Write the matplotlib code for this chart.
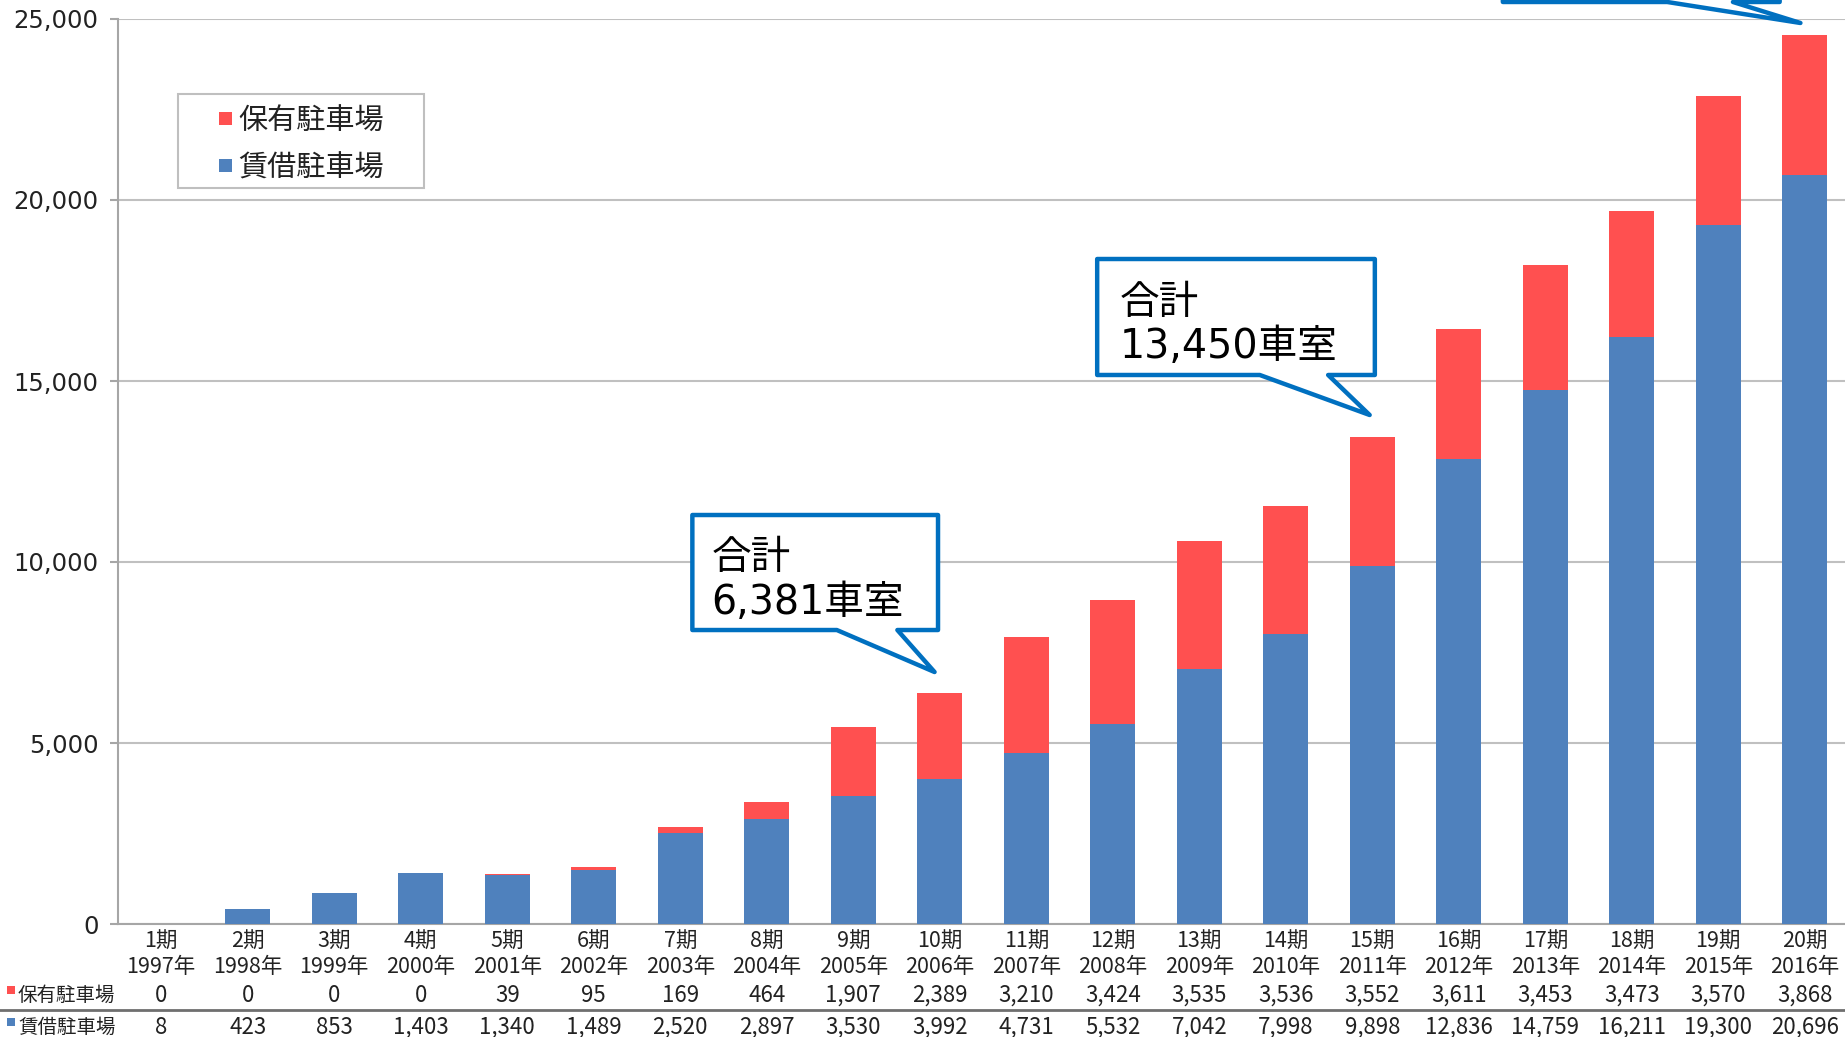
import matplotlib
matplotlib.use("Agg")
import matplotlib.pyplot as plt
from matplotlib.patches import Polygon, Rectangle
from matplotlib.transforms import blended_transform_factory
import numpy as np

periods = [f"{i}期" for i in range(1, 21)]
years = [f"{y}年" for y in range(1997, 2017)]
owned = [0, 0, 0, 0, 39, 95, 169, 464, 1907, 2389, 3210, 3424, 3535, 3536, 3552, 3611, 3453, 3473, 3570, 3868]
leased = [8, 423, 853, 1403, 1340, 1489, 2520, 2897, 3530, 3992, 4731, 5532, 7042, 7998, 9898, 12836, 14759, 16211, 19300, 20696]
series_names = ["保有駐車場", "賃借駐車場"]
yticks = [0, 5000, 10000, 15000, 20000, 25000]

RED = "#FF5050"
BLUE = "#4F81BD"
CJK = ["Noto Sans CJK JP", "DejaVu Sans"]
MIX = ["DejaVu Sans", "Noto Sans CJK JP"]
TXT = "#222222"

W, H = 1845, 1037
fig = plt.figure(figsize=(W / 100, H / 100), dpi=100)
ax = fig.add_axes([118 / W, (H - 924) / H, (1848 - 118) / W, (924 - 19) / H])

x = np.arange(len(periods))
ax.bar(x, leased, width=0.52, color=BLUE, zorder=3)
ax.bar(x, owned, width=0.52, bottom=leased, color=RED, zorder=3)

ax.set_xlim(-0.5, 19.5)
ax.set_ylim(0, 25000)
ax.set_yticks(yticks)
ax.set_yticklabels([f"{v:,}" for v in yticks], family="DejaVu Sans", fontsize=17.5, color=TXT)
ax.tick_params(axis="y", length=6, width=1.5, color="#A6A6A6", pad=8)
ax.set_xticks([])
ax.grid(axis="y", color="#C0C0C0", lw=1.5, zorder=0)
for s in ["top", "right"]:
    ax.spines[s].set_visible(False)
for s in ["left", "bottom"]:
    ax.spines[s].set_color("#A6A6A6")
    ax.spines[s].set_linewidth(1.5)

def fy(px):
    return 1 - px / H

# legend (drawn manually for exact layout)
fig.patches.append(Rectangle((178 / W, fy(188)), (424 - 178) / W, (188 - 94) / H,
                             transform=fig.transFigure, facecolor="white", edgecolor="#BFBFBF", lw=1.5, zorder=10))
for ypx, col, name in [(118, RED, series_names[0]), (165, BLUE, series_names[1])]:
    fig.patches.append(Rectangle((219 / W, fy(ypx + 6.5)), 13 / W, 13 / H, transform=fig.transFigure,
                                 facecolor=col, edgecolor="none", zorder=11))
    fig.text(238 / W, fy(ypx + 4), name, ha="left", va="center", family=CJK, fontsize=21, color=TXT, zorder=11)

# data table
tr = blended_transform_factory(ax.transData, fig.transFigure)
for i in range(len(periods)):
    ax.text(i, fy(942), periods[i], transform=tr, ha="center", va="center", family=CJK, fontsize=15.5, color=TXT, clip_on=False)
    ax.text(i, fy(967), years[i], transform=tr, ha="center", va="center", family=CJK, fontsize=15.5, color=TXT, clip_on=False)
    ax.text(i, fy(995), f"{owned[i]:,}", transform=tr, ha="center", va="center", family=CJK, fontsize=16, color=TXT, clip_on=False)
    ax.text(i, fy(1027), f"{leased[i]:,}", transform=tr, ha="center", va="center", family=CJK, fontsize=16, color=TXT, clip_on=False)

for ypx, col, name in [(995, RED, series_names[0]), (1027, BLUE, series_names[1])]:
    fig.patches.append(Rectangle((7 / W, fy(ypx - 1)), 8 / W, 8 / H, transform=fig.transFigure, facecolor=col, edgecolor="none"))
    fig.text(18 / W, fy(ypx), name, ha="left", va="center", family=CJK, fontsize=14, color=TXT)

fig.add_artist(plt.Line2D([0, 1], [fy(1010), fy(1010)], transform=fig.transFigure, color="#6F6F6F", lw=2))

# callouts (data coordinates)
BC = "#0070C0"
callouts = [
    [(6.14, 11298), (8.98, 11298), (8.98, 8121), (8.51, 8121), (8.94, 6961), (7.81, 8121), (6.14, 8121)],
    [(10.82, 18370), (14.03, 18370), (14.03, 15166), (13.49, 15166), (13.97, 14061), (12.70, 15166), (10.82, 15166)],
    [(15.51, 29000), (18.71, 29000), (18.71, 25470), (18.17, 25470), (18.95, 24890), (17.41, 25470), (15.51, 25470)],
]
for verts in callouts:
    p = Polygon(verts, closed=True, facecolor="white", edgecolor=BC, lw=3.2, joinstyle="round", zorder=6, clip_on=False)
    ax.add_patch(p)

ax.text(6.36, 10100, "合計", family=MIX, fontsize=28.5, ha="left", va="center", zorder=7)
ax.text(6.36, 8870, "6,381車室", family=MIX, fontsize=28.5, ha="left", va="center", zorder=7)
ax.text(11.08, 17160, "合計", family=MIX, fontsize=28.5, ha="left", va="center", zorder=7)
ax.text(11.08, 15950, "13,450車室", family=MIX, fontsize=28.5, ha="left", va="center", zorder=7)

fig.savefig("out.png", dpi=100)
